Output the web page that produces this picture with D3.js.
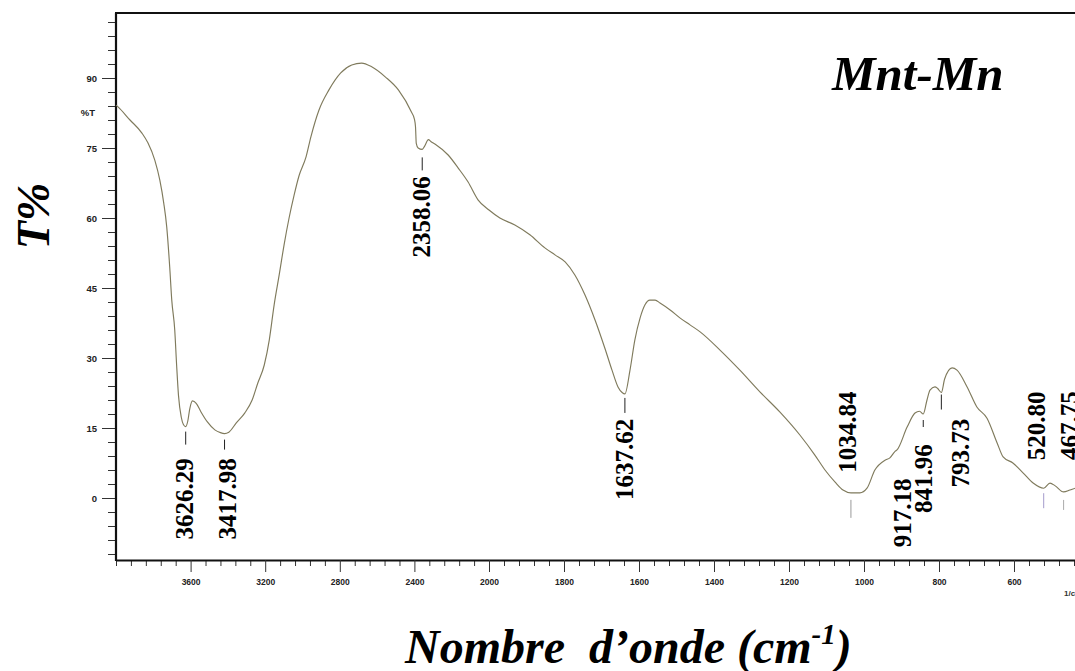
<!DOCTYPE html>
<html>
<head>
<meta charset="utf-8">
<script src="https://cdn.jsdelivr.net/npm/d3@7"></script>
<style>
  html, body { margin: 0; padding: 0; background: #fff; overflow: hidden; }
  svg { display: block; }
</style>
</head>
<body>
<svg id="chart" width="1075" height="671"></svg>
<script>
// ---------------- DATA ----------------
const waveNumbers = [
  4000, 3989, 3925, 3861, 3829, 3792, 3765, 3744, 3728, 3712, 3701, 3685, 3675, 3665, 3650, 3638, 3626.29,
  3615, 3605, 3590, 3570, 3545, 3510, 3470, 3440, 3417.98, 3395, 3355, 3310, 3270, 3240, 3205, 3178, 3152,
  3125, 3099, 3072, 3045, 3019, 2981, 2955, 2912, 2859, 2795, 2736, 2683, 2629, 2555, 2485, 2416, 2400,
  2394, 2390, 2380, 2358.06, 2345, 2325, 2312, 2288, 2219, 2165, 2112, 2059, 2000,
  1971, 1931, 1891, 1851, 1824, 1797, 1771, 1744, 1717, 1691, 1672, 1656, 1645, 1637.62, 1624, 1611, 1597,
  1584, 1571, 1557, 1544, 1517, 1491, 1464, 1437, 1384, 1331, 1277, 1224, 1171, 1131, 1104, 1077, 1056,
  1034.84, 1011, 992, 971, 944, 931, 917.18, 912, 885, 864, 852, 841.96, 832, 824, 811, 804, 793.73, 785,
  765, 752, 725, 699, 672, 645, 629, 603, 576, 549, 520.8, 504, 490, 467.75, 451, 437, 400
];
const transmittance = [
  84.2, 83.8, 81.0, 78.2, 76.1, 72.4, 68.1, 63.2, 58.1, 49.5, 42.4, 36.0, 28.5, 22.0, 17.3, 15.7, 15.3,
  16.5, 19.0, 20.8, 20.3, 18.5, 16.3, 14.6, 14.0, 13.8, 14.1, 16.1, 18.2, 21.0, 24.6, 28.5, 33.9, 41.4,
  47.8, 54.2, 60.0, 64.9, 69.0, 73.1, 77.4, 83.1, 87.4, 91.1, 92.8, 93.2, 92.4, 90.2, 87.4, 82.7, 81.2,
  79.5, 76.0, 75.0, 74.7, 75.4, 76.8, 76.4, 75.8, 73.5, 70.7, 67.7, 63.9, 61.7,
  60.0, 58.5, 56.4, 53.6, 52.1, 50.6, 47.8, 43.5, 38.1, 32.1, 27.4, 23.8, 22.6, 22.3, 27.4, 33.9, 38.6,
  41.4, 42.4, 42.4, 41.8, 40.3, 38.6, 37.1, 35.6, 31.7, 27.4, 22.7, 18.4, 13.5, 9.2, 6.0, 3.4, 1.7,
  1.1, 1.1, 2.1, 6.0, 8.1, 8.6, 10.0, 10.3, 15.2, 18.2, 18.6, 18.0, 21.0, 23.1, 23.8, 23.5, 22.6, 25.5,
  27.9, 27.4, 23.8, 19.5, 17.1, 11.8, 8.8, 7.5, 5.4, 3.2, 2.1, 3.2, 2.6, 1.3, 1.7, 2.1, 2.6
];
const peakLabels = ["3626.29", "3417.98", "2358.06", "1637.62", "1034.84", "917.18", "841.96", "793.73", "520.80", "467.75"];
const peakWaveNumbers = [3626.29, 3417.98, 2358.06, 1637.62, 1034.84, 917.18, 841.96, 793.73, 520.80, 467.75];
const peakTransmittance = [15.3, 13.8, 74.7, 22.3, 1.1, 10.0, 18.0, 22.6, 2.1, 1.3];
const xMajorTickValues = [3600, 3200, 2800, 2400, 2000, 1800, 1600, 1400, 1200, 1000, 800, 600, 400];
const yMajorTickValues = [0, 15, 30, 45, 60, 75, 90];

// ---------------- LAYOUT ----------------
// per-label pixel offsets: [text dx, tick top dy, tick bottom dy, text bottom dy, tick colour]
const peakLayout = [
  [-1, 5, 18, 113, "#222"],
  [3, 6, 16, 106, "#222"],
  [-1, 8, 21, 108, "#222"],
  [0, 4, 19, 106, "#222"],
  [-3, 7, 25, -20, "#999"],
  [7, 0, 0, 96, "none"],
  [0, 6, 13, 99, "#222"],
  [19, 2, 17, 95, "#222"],
  [-7, 5, 20, -28, "#a49ccc"],
  [6, 8, 18, -32, "#aaa"]
];

const svg = d3.select("#chart");
svg.append("rect").attr("width", 1075).attr("height", 671).attr("fill", "#fff");

const plotLeft = 116, plotTop = 13, plotBottom = 560;
const x = d3.scaleLinear().domain([4000, 2000, 400]).range([plotLeft, 489, 1089]);
const y = d3.scaleLinear().domain([0, 90]).range([498, 78]);

// ---------------- AXES ----------------
const tickFont = "'Liberation Sans', Arial, sans-serif";

const xMinor = d3.range(4000, 2000, -80).concat(d3.range(2000, 399, -40))
  .filter(v => xMajorTickValues.indexOf(v) < 0);
const xAxisMinor = d3.axisBottom(x).tickValues(xMinor).tickSize(6).tickSizeOuter(0).tickFormat("");
const gxm = svg.append("g").attr("transform", `translate(0,${plotBottom})`).call(xAxisMinor);
gxm.select(".domain").remove();
gxm.selectAll(".tick line").attr("stroke", "#333").attr("stroke-width", 1);

const xAxis = d3.axisBottom(x).tickValues(xMajorTickValues).tickSize(12).tickSizeOuter(0).tickPadding(7)
  .tickFormat(d3.format("d"));
const gx = svg.append("g").attr("transform", `translate(0,${plotBottom})`).call(xAxis);
gx.select(".domain").attr("stroke", "#111").attr("stroke-width", 2.2);
gx.selectAll(".tick line").attr("stroke", "#333").attr("stroke-width", 1);
gx.selectAll(".tick text").attr("font-family", tickFont).attr("font-size", 8.5)
  .attr("font-weight", "bold").attr("fill", "#222");

const yMinor = d3.range(-12, 103, 3).filter(v => yMajorTickValues.indexOf(v) < 0);
const yAxisMinor = d3.axisLeft(y).tickValues(yMinor).tickSize(8).tickSizeOuter(0).tickFormat("");
const gym = svg.append("g").attr("transform", `translate(${plotLeft},0)`).call(yAxisMinor);
gym.select(".domain").remove();
gym.selectAll(".tick line").attr("stroke", "#333").attr("stroke-width", 1);

const yAxis = d3.axisLeft(y).tickValues(yMajorTickValues).tickSize(14).tickSizeOuter(0).tickPadding(5)
  .tickFormat(d3.format("d"));
const gy = svg.append("g").attr("transform", `translate(${plotLeft},0)`).call(yAxis);
gy.select(".domain").remove();
gy.selectAll(".tick line").attr("stroke", "#333").attr("stroke-width", 1);
gy.selectAll(".tick text").attr("font-family", tickFont).attr("font-size", 9.5)
  .attr("font-weight", "bold").attr("fill", "#222");

svg.append("line").attr("x1", plotLeft).attr("x2", plotLeft).attr("y1", plotTop).attr("y2", plotBottom + 1)
  .attr("stroke", "#111").attr("stroke-width", 2.2);
svg.append("line").attr("x1", plotLeft - 1).attr("x2", 1075).attr("y1", plotTop).attr("y2", plotTop)
  .attr("stroke", "#111").attr("stroke-width", 2.2);

svg.append("text").attr("x", 95).attr("y", 116).attr("text-anchor", "end")
  .attr("font-family", tickFont).attr("font-size", 9.5).attr("font-weight", "bold").attr("fill", "#222")
  .text("%T");
svg.append("text").attr("x", 1064).attr("y", 596)
  .attr("font-family", tickFont).attr("font-size", 8).attr("font-weight", "bold").attr("fill", "#333")
  .text("1/cm");

// ---------------- CURVE ----------------
const pts = waveNumbers.map((w, i) => [w, transmittance[i]]);
const line = d3.line().x(d => x(d[0])).y(d => y(d[1])).curve(d3.curveMonotoneX);
svg.append("path").datum(pts).attr("d", line)
  .attr("fill", "none").attr("stroke", "#7f7a5c").attr("stroke-width", 1.15);

// ---------------- PEAK LABELS ----------------
const serif = "'Liberation Serif', 'Times New Roman', serif";
peakLabels.forEach((lab, i) => {
  const px = x(peakWaveNumbers[i]);
  const py = y(peakTransmittance[i]);
  const L = peakLayout[i];
  if (L[4] !== "none") {
    svg.append("line").attr("x1", px).attr("x2", px).attr("y1", py + L[1]).attr("y2", py + L[2])
      .attr("stroke", L[4]).attr("stroke-width", 1);
  }
  const tx = px + L[0], ty = py + L[3];
  svg.append("text")
    .attr("transform", `translate(${tx},${ty}) rotate(-90)`)
    .attr("text-anchor", "start")
    .attr("dominant-baseline", "central")
    .attr("font-family", serif).attr("font-size", 25).attr("font-weight", "bold").attr("fill", "#000")
    .text(lab);
});

// ---------------- TITLES ----------------
svg.append("text").attr("x", 832).attr("y", 90)
  .attr("font-family", serif).attr("font-size", 49).attr("font-weight", "bold").attr("font-style", "italic")
  .attr("fill", "#000").text("Mnt-Mn");

svg.append("text").attr("transform", "translate(49,216) rotate(-90)").attr("text-anchor", "middle")
  .attr("font-family", serif).attr("font-size", 46).attr("font-weight", "bold").attr("font-style", "italic")
  .attr("fill", "#000").text("T%");

const xl = svg.append("text").attr("x", 405).attr("y", 663)
  .attr("font-family", serif).attr("font-size", 48).attr("font-weight", "bold").attr("font-style", "italic")
  .attr("fill", "#000").style("white-space", "pre");
xl.append("tspan").text("Nombre  d\u2019onde (cm");
xl.append("tspan").attr("font-size", 29).attr("dy", -19).text("-1");
xl.append("tspan").attr("dy", 19).text(")");
</script>
</body>
</html>
